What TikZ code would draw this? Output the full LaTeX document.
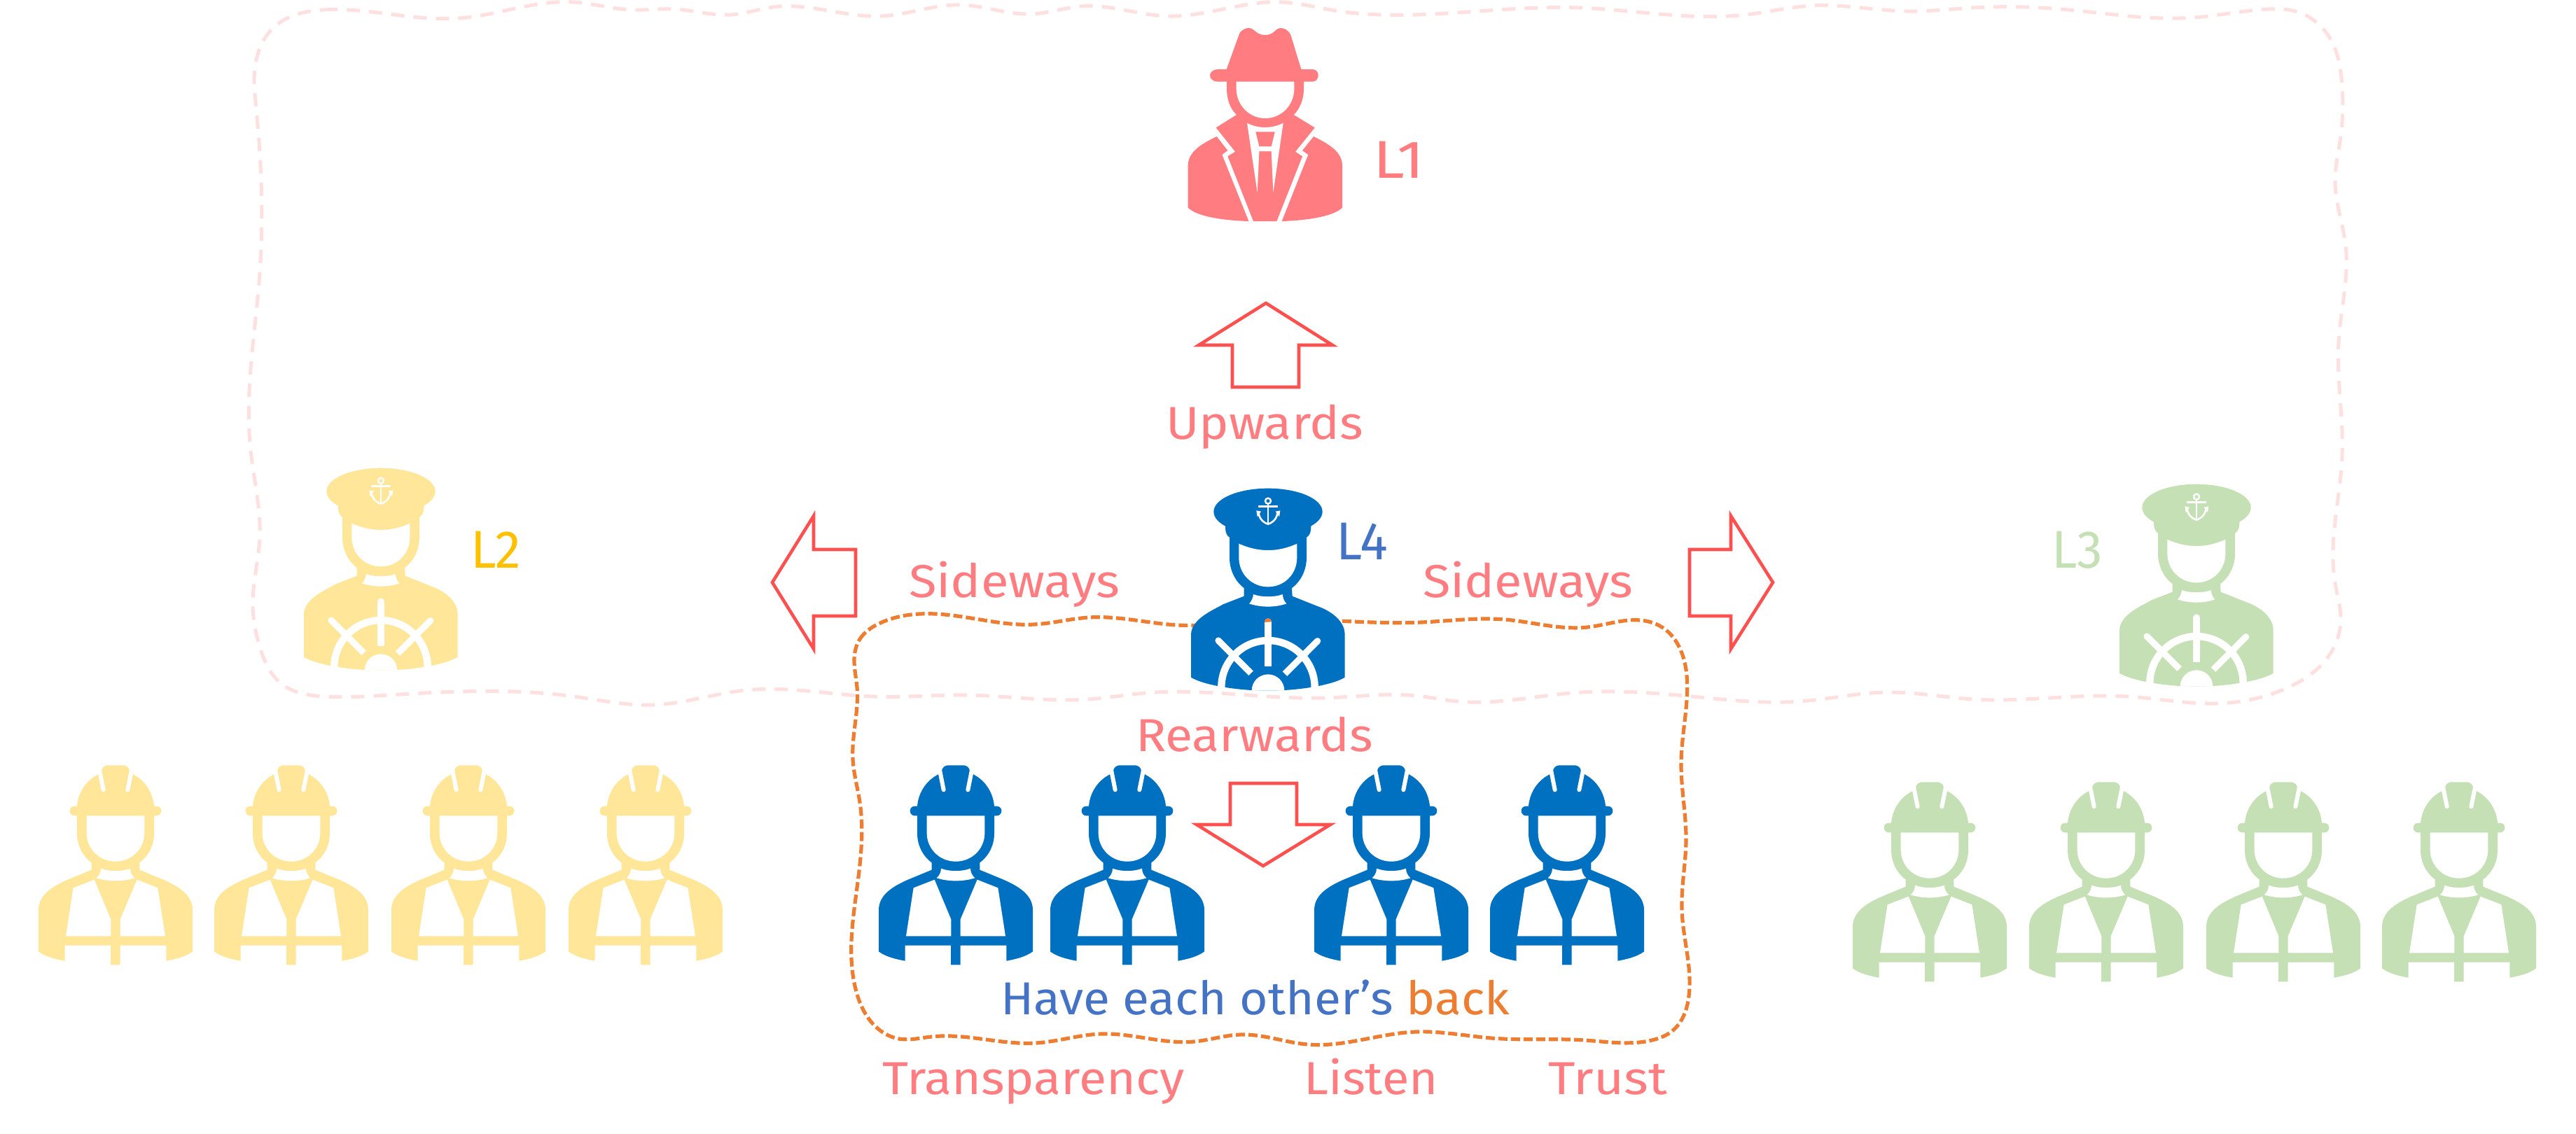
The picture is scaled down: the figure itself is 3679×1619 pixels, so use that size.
\documentclass[tikz,border=0pt]{standalone}
\usepackage{graphicx}
\usepackage{fontspec}
\usetikzlibrary{hobby}
\setmainfont{Fira Sans}
\definecolor{pinkT}{HTML}{FF7C80}
\definecolor{pinkLine}{HTML}{FFE0E0}
\definecolor{arrowR}{HTML}{FF5050}
\definecolor{orangeL}{HTML}{ED7D31}
\definecolor{blueI}{HTML}{0070C0}
\definecolor{blueT}{HTML}{4472C4}
\definecolor{yellowI}{HTML}{FFE699}
\definecolor{yellowT}{HTML}{FFC000}
\definecolor{greenI}{HTML}{C5E0B4}
\newcommand{\fitw}[2]{\resizebox{#1pt}{\height}{#2}}
\tikzset{
  lbl/.style={inner sep=0pt,outer sep=0pt,anchor=base west,font=\fontsize{33}{36}\selectfont},
  lvl/.style={inner sep=0pt,outer sep=0pt,anchor=base west,font=\fontsize{38}{40}\selectfont},
  blockarrow/.style={draw=arrowR,line width=2.3pt,miter limit=20},
  orangebox/.style={draw=orangeL,line width=2.6pt,dash pattern=on 6.5pt off 2.5pt},
  pinkbox/.style={draw=pinkLine,line width=2.5pt,dash pattern=on 9.5pt off 6.5pt},
  icon/.style={x=0.16667pt,y=-0.16667pt},
  cut/.style={fill=white,draw=none}
}
\newcommand{\spyicon}[3]{%
\begin{scope}[shift={(#1,#2)},icon]
 \fill[#3] (-110,145) .. controls (-100,125) and (-80,120) .. (-70,120) .. controls (-45,120) and (-40,150) .. (0,150) .. controls (40,150) and (45,120) .. (65,120) .. controls (85,120) and (100,130) .. (110,150) -- (155,297) -- (202,297) .. controls (220,297) and (228,310) .. (228,323) .. controls (228,338) and (218,350) .. (202,350) -- (166,350) -- (166,380) .. controls (166,425) and (150,465) .. (123,492) -- (213,547) -- (130,650) -- (160,670) -- (50,948) -- (-50,948) -- (-160,670) -- (-128,650) -- (-210,547) -- (-122,492) .. controls (-150,465) and (-164,425) .. (-164,380) -- (-164,350) -- (-202,350) .. controls (-222,350) and (-236,338) .. (-236,323) .. controls (-236,310) and (-222,297) .. (-202,297) -- (-165,297) -- cycle;
 \fill[#3] (-207,585) -- (-160,645) -- (-184,663) -- (-70,948) .. controls (-170,945) and (-290,930) .. (-330,890) -- (-330,710) .. controls (-330,650) and (-270,615) .. (-207,585) -- cycle;
 \fill[#3] (208,585) -- (160,645) -- (185,663) -- (72,948) .. controls (170,945) and (290,930) .. (331,890) -- (331,710) .. controls (331,650) and (270,615) .. (208,585) -- cycle;
 \fill[cut] (-123,350) -- (125,350) -- (125,380) .. controls (125,450) and (70,507) .. (1,507) .. controls (-68,507) and (-123,450) .. (-123,380) -- cycle;
 \fill[cut] (-77,527) .. controls (-30,552) and (30,552) .. (78,527) -- (35,825) -- (27,648) -- (-25,648) -- (-33,825) -- cycle;
 \fill[#3] (-40,565) -- (42,565) -- (27,627) -- (-25,627) -- cycle;
\end{scope}}
\newcommand{\captainicon}[3]{%
\begin{scope}[shift={(#1,#2)},icon]
 \fill[#3] (-330,893) -- (-330,710) .. controls (-330,640) and (-225,600) .. (-193,580) -- (-103,545) -- (-103,510) .. controls (-143,480) and (-165,430) .. (-165,380) -- (-165,293) .. controls (-178,285) and (-183,270) .. (-183,250) -- (-183,233) -- (184,233) -- (184,250) .. controls (184,270) and (178,285) .. (165,293) -- (165,380) .. controls (165,430) and (143,480) .. (102,510) -- (104,545) -- (217,590) .. controls (247,600) and (329,640) .. (329,710) -- (329,893) .. controls (277,925) and (137,950) .. (0,950) .. controls (-137,950) and (-278,925) .. (-330,893) -- cycle;
 \fill[#3] (0,183) ellipse [x radius=38.83pt,y radius=16.67pt];
 \fill[cut] (-125,320) .. controls (-80,340) and (-40,348) .. (0,348) .. controls (40,348) and (80,340) .. (124,320) -- (124,380) .. controls (124,450) and (70,505) .. (0,505) .. controls (-70,505) and (-125,450) .. (-125,380) -- cycle;
 \fill[cut] (-63,537) .. controls (-30,550) and (30,550) .. (62,537) .. controls (64,555) and (70,568) .. (79,577) .. controls (30,594) and (-30,594) .. (-81,577) .. controls (-72,568) and (-65,555) .. (-63,537) -- cycle;
 \draw[white,line width=5.2pt] (-200,945) -- (-200,935) .. controls (-200,825) and (-110,735) .. (0,735) .. controls (110,735) and (200,825) .. (200,935) -- (200,945);
 \draw[white,line width=5pt] (0,845) -- (0,655);
 \fill[white] (0,655) circle (2.5pt);
 \draw[white,line width=4.6pt] (-73,875) -- (-213,735);
 \fill[white] (-213,735) circle (2.3pt);
 \draw[white,line width=4.6pt] (72,878) -- (212,737);
 \fill[white] (212,737) circle (2.3pt);
 \fill[cut] (-70,950) .. controls (-70,911) and (-39,880) .. (0,880) .. controls (39,880) and (70,911) .. (70,950) -- cycle;
 % anchor
 \draw[white,line width=1.2pt] (0,137) circle (2pt);
 \draw[white,line width=1.3pt] (-42,161) -- (42,161);
 \draw[white,line width=1.3pt] (0,150) -- (0,235);
 \draw[white,line width=1.3pt] (-40,190) .. controls (-36,218) and (-15,232) .. (0,236) .. controls (15,232) and (36,218) .. (40,190);
 \fill[white] (-50,178) -- (-30,182) -- (-46,205) -- cycle;
 \fill[white] (52,178) -- (32,182) -- (48,205) -- cycle;
\end{scope}}
\newcommand{\engineericon}[3]{%
\begin{scope}[shift={(#1,#2)},icon]
 \fill[#3] (-330,898) -- (-330,720) .. controls (-330,650) and (-260,615) .. (-205,590) -- (-103,548) -- (-103,517) .. controls (-145,485) and (-165,440) .. (-165,390) -- (-165,316) -- (-175,316) .. controls (-188,316) and (-196,306) .. (-196,295) .. controls (-196,284) and (-188,275) .. (-175,275) -- (-165,275) .. controls (-160,215) and (-125,165) .. (-77,140) -- (-60,125) .. controls (-60,110) and (-45,100) .. (-35,100) -- (35,100) .. controls (45,100) and (60,110) .. (60,125) -- (78,140) .. controls (125,165) and (160,215) .. (165,275) -- (175,275) .. controls (188,275) and (196,284) .. (196,295) .. controls (196,306) and (188,316) .. (175,316) -- (165,316) -- (165,390) .. controls (165,440) and (145,485) .. (103,517) -- (103,548) -- (205,590) .. controls (260,615) and (330,650) .. (330,720) -- (330,898) .. controls (300,920) and (260,930) .. (217,938) -- (217,872) -- (20,872) -- (20,955) -- (-21,955) -- (-21,872) -- (-217,872) -- (-217,938) .. controls (-260,930) and (-300,920) .. (-330,898) -- cycle;
 \draw[white,line width=3pt,line cap=round] (-68,125) -- (-52,205);
 \draw[white,line width=3pt,line cap=round] (68,125) -- (52,205);
 \fill[cut] (-124,316) -- (124,316) -- (124,390) .. controls (124,457) and (70,512) .. (0,512) .. controls (-70,512) and (-124,457) .. (-124,390) -- cycle;
 \fill[cut] (-181,625) -- (-91,590) -- (-20,760) -- (-20,832) -- (-213,832) -- cycle;
 \fill[cut] (181,625) -- (92,590) -- (20,760) -- (20,832) -- (213,832) -- cycle;
 \fill[cut] (-63,542) .. controls (-25,556) and (25,556) .. (63,542) .. controls (63,558) and (70,572) .. (82,583) .. controls (30,599) and (-30,599) .. (-82,583) .. controls (-70,572) and (-63,558) .. (-63,542) -- cycle;
\end{scope}}
\newcommand{\orangepath}{(1228,913) .. (1255,891) .. (1350,878) .. (1477,892) .. (1556,882) .. (1682,893) .. (1811,886) .. (1911,887) .. (2030,889) .. (2149,885) .. (2267,896) .. (2350,887) .. (2378,899) .. (2402,933) .. (2409,1000) .. (2401,1090) .. (2408,1200) .. (2402,1300) .. (2412,1423) .. (2388,1473) .. (2363,1485) .. (2263,1486) .. (2130,1483) .. (2022,1474) .. (1867,1492) .. (1772,1478) .. (1705,1488) .. (1572,1477) .. (1480,1490) .. (1330,1481) .. (1284,1484) .. (1247,1463) .. (1222,1413) .. (1224,1268) .. (1228,1146) .. (1218,1085) .. (1224,982) .. (1220,942)}
\begin{document}
\begin{tikzpicture}[x=0.5pt,y=-0.5pt]
\useasboundingbox (0,0) rectangle (3679,1619);
\draw[orangebox,use Hobby shortcut,closed=true] \orangepath;
\draw[pinkbox,use Hobby shortcut,closed=true] (463,14) .. (656,26) .. (820,3) .. (901,14) .. (963,13) .. (1044,21) .. (1105,10) .. (1259,23) .. (1371,7) .. (1473,20) .. (1544,9) .. (1667,23) .. (1830,3) .. (1900,14) .. (2082,18) .. (2254,11) .. (2493,21) .. (2589,8) .. (2723,16) .. (2819,11) .. (2943,13) .. (3134,25) .. (3240,13) .. (3278,16) .. (3326,52) .. (3345,124) .. (3343,195) .. (3335,260) .. (3350,351) .. (3340,488) .. (3345,651) .. (3335,833) .. (3343,885) .. (3326,937) .. (3268,982) .. (3163,1005) .. (3039,995) .. (2819,999) .. (2694,989) .. (2570,1002) .. (2417,995) .. (2244,990) .. (2082,1002) .. (2024,994) .. (1891,997) .. (1636,990) .. (1554,999) .. (1381,993) .. (1248,995) .. (1065,986) .. (932,1007) .. (820,995) .. (554,993) .. (463,995) .. (401,976) .. (371,924) .. (361,865) .. (371,768) .. (358,644) .. (371,390) .. (366,156) .. (364,98) .. (391,39);
% icons
\spyicon{1806.7}{0}{pinkT}
\captainicon{1811}{670}{blueI}
\begin{scope}
 \clip (1811,888.3) circle (2.5pt);
 \draw[orangebox,dash pattern=,use Hobby shortcut,closed=true] \orangepath;
\end{scope}
\captainicon{544}{641}{yellowI}
\captainicon{3137}{664}{greenI}
\foreach \ex in {165,416,669,922}{\engineericon{\ex}{1060}{yellowI}}
\foreach \ex in {1365,1610,1987,2238}{\engineericon{\ex}{1060}{blueI}}
\foreach \ex in {2756,3008,3261,3512}{\engineericon{\ex}{1084}{greenI}}
% block arrows
\draw[blockarrow] (1808,433) -- (1903,493) -- (1855,493) -- (1855,553) -- (1760,553) -- (1760,493) -- (1712,493) -- cycle;
\draw[blockarrow] (1804,1237) -- (1900,1178) -- (1852,1178) -- (1852,1119) -- (1757,1119) -- (1757,1178) -- (1709,1178) -- cycle;
\draw[blockarrow] (1103,832) -- (1162,737) -- (1162,785) -- (1222,785) -- (1222,880) -- (1162,880) -- (1162,927) -- cycle;
\draw[blockarrow] (2532,832) -- (2472,737) -- (2472,785) -- (2413,785) -- (2413,880) -- (2472,880) -- (2472,927) -- cycle;
% labels
\node[lvl,text=pinkT] (l1) at (1961,254) {\fitw{36.5}{L1}};
\node[lvl,text=blueT] (l4) at (1908,799) {\fitw{37}{L4}};
\node[lvl,text=yellowT] (l2) at (672,811) {\fitw{36}{L2}};
\node[lvl,text=greenI] (l3) at (2930,811) {\fitw{36.5}{L3}};
\node[lbl,text=pinkT] (up) at (1665,627) {\fitw{141}{Upwards}};
\node[lbl,text=pinkT] (sl) at (1298,853) {\fitw{150.5}{Sideways}};
\node[lbl,text=pinkT] (sr) at (2032,853) {\fitw{150}{Sideways}};
\node[lbl,text=pinkT] (re) at (1622,1073) {\fitw{169.5}{Rearwards}};
\node[lbl,text=blueT] (hv) at (1429,1449) {\fitw{363.5}{Have each other's \textcolor{orangeL}{back}}};
\node[lbl,text=pinkT] (tr) at (1260,1563) {\fitw{216}{Transparency}};
\node[lbl,text=pinkT] (li) at (1862,1563) {\fitw{96}{Listen}};
\node[lbl,text=pinkT] (tu) at (2211,1563) {\fitw{85}{Trust}};
\end{tikzpicture}
\end{document}
